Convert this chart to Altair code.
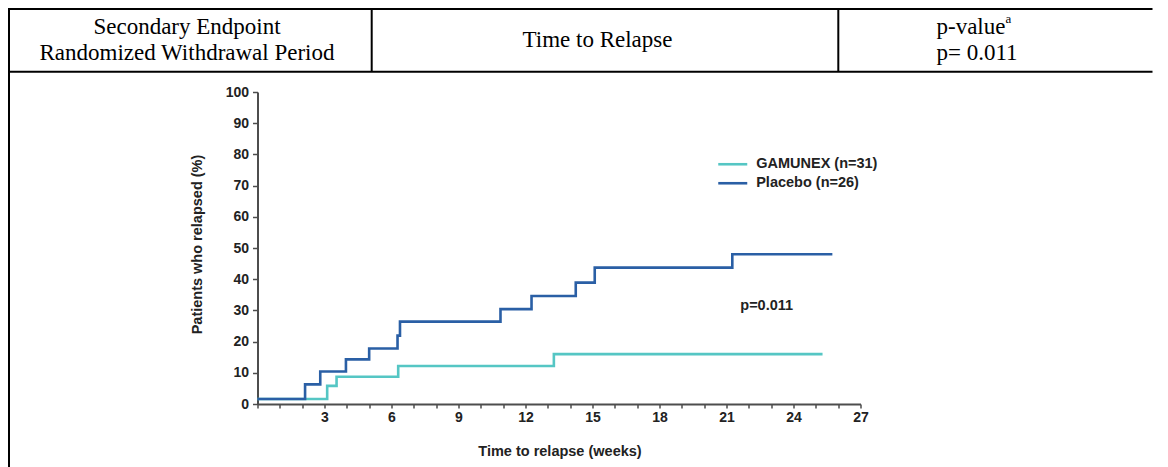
import altair as alt
import pandas as pd

# ---- data (Kaplan-Meier cumulative relapse, step curves)
placebo_weeks = [0, 2.13, 2.81, 3.96, 5.0, 6.27, 6.38, 10.88, 12.27, 14.25, 15.1, 21.26, 25.74]
placebo_pct = [1.6, 6.3, 10.4, 14.3, 17.8, 21.9, 26.4, 30.4, 34.6, 38.9, 43.7, 48.0, 48.0]
gamunex_weeks = [0, 3.12, 3.54, 6.3, 13.27, 25.3]
gamunex_pct = [1.6, 5.8, 8.75, 12.2, 16.0, 16.0]

series_names = ["GAMUNEX (n=31)", "Placebo (n=26)"]
series_colors = ["#55c6c4", "#2a5fa5"]

x_tick_values = list(range(0, 28))
y_tick_values = list(range(0, 101, 10))

header_col1 = ["Secondary Endpoint", "Randomized Withdrawal Period"]
header_col2 = "Time to Relapse"
header_col3 = ["p-value", "p= 0.011"]
p_annotation = "p=0.011"

rows = []
for w, p in zip(gamunex_weeks, gamunex_pct):
    rows.append({"week": w, "pct": p, "series": series_names[0]})
for w, p in zip(placebo_weeks, placebo_pct):
    rows.append({"week": w, "pct": p, "series": series_names[1]})
df = pd.DataFrame(rows)

W, H = 603, 312
SANS = "Liberation Sans"
SERIF = "Liberation Serif"
INK = "#222222"

lines = alt.Chart(df).mark_line(interpolate="step-after", strokeWidth=2.6).encode(
    x=alt.X(
        "week:Q",
        scale=alt.Scale(domain=[0, 27], nice=False, zero=False),
        axis=alt.Axis(
            values=x_tick_values,
            labelExpr="datum.value % 3 == 0 && datum.value > 0 ? datum.label : ''",
            labelOverlap=False,
            labelFlush=False,
            title="Time to relapse (weeks)",
            titleX=302,
            titleY=47,
            titleBaseline="middle",
        ),
    ),
    y=alt.Y(
        "pct:Q",
        scale=alt.Scale(domain=[0, 100], nice=False),
        axis=alt.Axis(
            values=y_tick_values,
            title="Patients who relapsed (%)",
            titleX=-60,
            titleY=152,
            titleAngle=270,
            titleAlign="center",
            titleBaseline="middle",
        ),
    ),
    color=alt.Color(
        "series:N",
        scale=alt.Scale(domain=series_names, range=series_colors),
        legend=alt.Legend(
            orient="none",
            legendX=477.5,
            legendY=65,
            title=None,
            symbolType="M-4.8,0H1",
            symbolSize=100,
            symbolStrokeWidth=2.6,
            labelFont=SANS,
            labelFontSize=14.5,
            labelFontWeight="bold",
            labelColor=INK,
            labelOffset=6.7,
            rowPadding=4,
            padding=0,
        ),
    ),
)

one = alt.Data(values=[{"k": 1}])


def hrule(y, x1, x2, w=2):
    return alt.Chart(one).mark_rule(color="black", strokeWidth=w).encode(
        x=alt.value(x1), x2=alt.value(x2), y=alt.value(y)
    )


def vrule(x, y1, y2, w=2):
    return alt.Chart(one).mark_rule(color="black", strokeWidth=w).encode(
        x=alt.value(x), y=alt.value(y1), y2=alt.value(y2)
    )


def txt(s, x, y, size=23, align="center", font=SERIF, weight="normal", color="black"):
    return alt.Chart(one).mark_text(
        text=s, font=font, fontSize=size, align=align, baseline="middle",
        color=color, fontWeight=weight,
    ).encode(x=alt.value(x), y=alt.value(y))


decor = [
    hrule(-83, -250, 895),
    hrule(-20.3, -250, 895),
    vrule(-248.5, -84, 380),
    vrule(114.2, -83, -20.3),
    vrule(580.8, -83, -20.3),
    txt(header_col1[0], -70.5, -65),
    txt(header_col1[1], -70.5, -39),
    txt(header_col2, 340, -52),
    txt(header_col3[0], 679, -65, align="left"),
    txt("a", 748, -73, size=13, align="left"),
    txt(header_col3[1], 719.5, -39),
    txt(p_annotation, 509.2, 214, size=14.5, font=SANS, weight="bold", color=INK),
]

chart = alt.layer(lines, *decor).properties(
    width=W,
    height=H,
    padding={"left": 249.5, "top": 84, "right": 299.5, "bottom": 63},
    autosize=alt.AutoSizeParams(type="none"),
).configure_view(stroke=None).configure_axis(
    grid=False,
    domainColor="#4d4d4d",
    domainWidth=2,
    tickColor="#4d4d4d",
    tickWidth=1.5,
    labelFont=SANS,
    labelFontWeight="bold",
    labelFontSize=14,
    labelColor=INK,
    titleFont=SANS,
    titleFontWeight="bold",
    titleFontSize=14.5,
    titleColor=INK,
).configure_axisX(tickSize=4, labelPadding=2).configure_axisY(tickSize=5, labelPadding=4)

chart.save("out.html", embed_options={"renderer": "svg", "actions": False})
